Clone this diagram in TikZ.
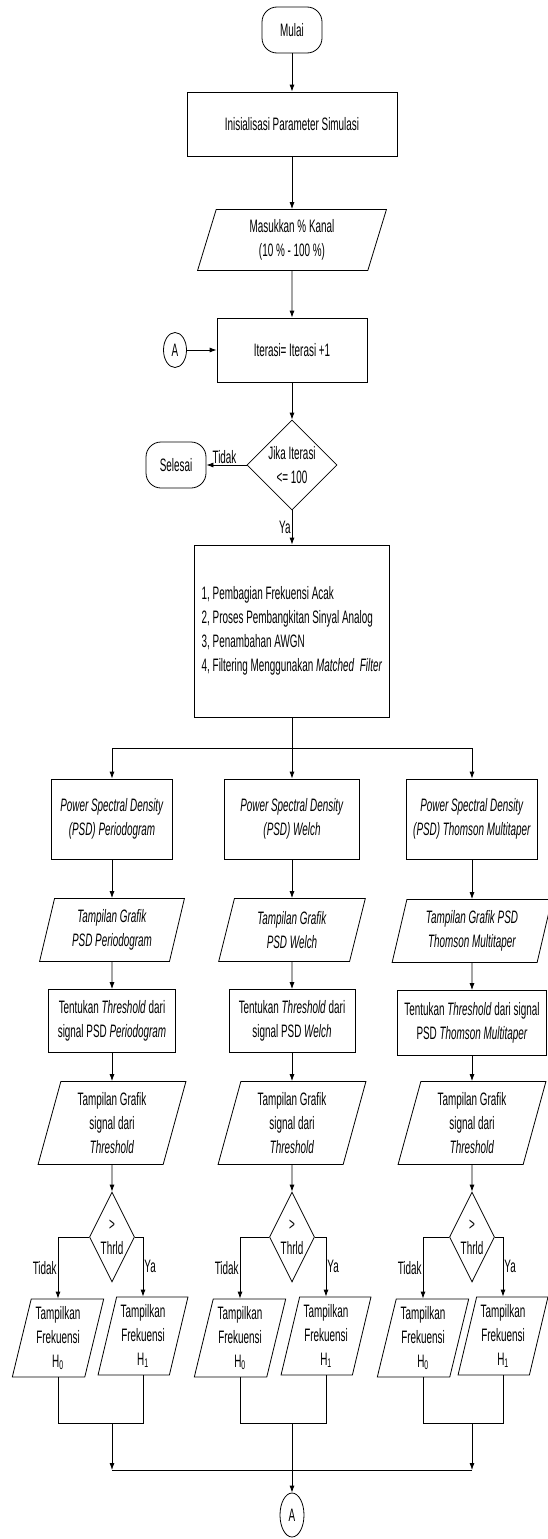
\documentclass[tikz,border=0pt]{standalone}
\usepackage{fontspec}
\setmainfont[FakeStretch=0.55]{Liberation Sans}
\usetikzlibrary{arrows.meta,shapes.geometric,positioning,calc}
\tikzset{
  terminal/.style={draw, rounded corners=15pt, minimum width=60pt, minimum height=46pt},
  proses/.style={draw, rectangle, align=center, inner sep=2pt},
  io/.style={draw, trapezium, trapezium left angle=76, trapezium right angle=104, trapezium stretches=true, align=center, inner sep=1pt},
  cabang/.style={draw, diamond, aspect=0.5, align=center, inner sep=0pt},
  konektor/.style={draw, ellipse, inner sep=0pt, minimum width=23pt},
  panah/.style={-{Latex[length=7pt,width=5pt]}},
  label/.style={inner sep=1pt}
}
\begin{document}
\begin{tikzpicture}[x=1pt,y=-1pt,line width=0.8pt,font=\fontsize{18}{24}\selectfont]
  \useasboundingbox (0,0) rectangle (548,1539);
  \node[terminal] (mulai) at (292,30) {Mulai};
  \node[proses, minimum width=210pt, minimum height=64pt] (init) at (292,124) {Inisialisasi Parameter Simulasi};
  \node[io, minimum width=189pt, minimum height=61pt] (masuk) at (292,240) {Masukkan \% Kanal\\(10 \% - 100 \%)};
  \node[proses, minimum width=150pt, minimum height=64pt] (iter) at (292,350) {Iterasi= Iterasi +1};
  \node[konektor, minimum height=35pt] (A1) at (175,350) {A};
  \node[cabang, aspect=1, minimum width=90pt, minimum height=90pt] (cek) at (292,465) {Jika Iterasi\\<= 100};
  \node[terminal] (selesai) at (176,465) {Selesai};
  \node[proses, align=left, inner sep=1pt, minimum width=195pt, minimum height=172pt] (langkah) at (292,631) {1, Pembagian Frekuensi Acak\\2, Proses Pembangkitan Sinyal Analog\\3, Penambahan AWGN\\4, Filtering Menggunakan \textit{Matched}\ \ \textit{Filter}};
  \coordinate (bagi) at (292,748);
  \coordinate (kumpul) at (292,1470);

  \draw[panah] (mulai) -- (init);
  \draw[panah] (init) -- (masuk);
  \draw[panah] (masuk) -- (iter);
  \draw[panah] (A1) -- (iter);
  \draw[panah] (iter) -- (cek);
  \draw[panah] (cek.west) -- node[label, above, xshift=-2pt] (tdk0) {Tidak} (selesai.east);
  \draw[panah] (cek.south) -- node[label, left] (ya0) {Ya} (langkah.north);
  \draw (langkah.south) -- (bagi);

  % kolom PSD
  \node[proses, minimum width=121pt, minimum height=80pt] (psd1) at (112,819) {\textit{Power Spectral Density}\\\textit{(PSD) Periodogram}};
  \node[proses, minimum width=135pt, minimum height=80pt] (psd2) at (292,819) {\textit{Power Spectral Density}\\\textit{(PSD) Welch}};
  \node[proses, minimum width=131pt, minimum height=80pt] (psd3) at (472,819) {\textit{Power Spectral Density}\\\textit{(PSD) Thomson Multitaper}};
  \node[io, minimum width=145pt, minimum height=63pt] (tg1) at (112,930) {\textit{Tampilan Grafik}\\\textit{PSD Periodogram}};
  \node[io, minimum width=148pt, minimum height=63pt] (tg2) at (292,930) {\textit{Tampilan Grafik}\\\textit{PSD Welch}};
  \node[io, minimum width=160pt, minimum height=63pt] (tg3) at (472,931) {\textit{Tampilan Grafik PSD}\\\textit{Thomson Multitaper}};
  \node[proses, minimum width=127pt, minimum height=63pt] (tt1) at (112,1021) {Tentukan \textit{Threshold} dari\\signal PSD \textit{Periodogram}};
  \node[proses, minimum width=126pt, minimum height=63pt] (tt2) at (292,1021) {Tentukan \textit{Threshold} dari\\signal PSD \textit{Welch}};
  \node[proses, minimum width=149pt, minimum height=65pt] (tt3) at (472,1023) {Tentukan \textit{Threshold} dari signal\\PSD \textit{Thomson Multitaper}};

  \foreach \i/\x/\a/\b in {1/112/58/143, 2/292/240/326, 3/472/423/503}{
    \node[io, minimum width=148pt, minimum height=83pt] (ts\i) at (\x,1123) {Tampilan Grafik\\signal dari\\\textit{Threshold}};
    \node[cabang, minimum width=45pt, minimum height=90pt] (thr\i) at (\x,1237) {>\\Thrld};
    \node[io, minimum width=92pt, minimum height=78pt] (hnol\i) at (\a,1338) {Tampilkan\\Frekuensi\\H\textsubscript{0}};
    \node[io, minimum width=90pt, minimum height=78pt] (hsatu\i) at (\b,1336) {Tampilkan\\Frekuensi\\H\textsubscript{1}};
    \coordinate (gab\i) at (\x,1423);
    \draw[panah] (bagi) -| (psd\i.north);
    \draw[panah] (psd\i) -- (tg\i);
    \draw[panah] (tg\i) -- (tt\i);
    \draw[panah] (tt\i) -- (ts\i);
    \draw[panah] (ts\i) -- (thr\i);
    \draw[panah] (thr\i.west) -| node[label, pos=0.75, left] (tdk\i) {Tidak} (hnol\i.north);
    \draw[panah] (thr\i.east) -| node[label, pos=0.75, right] (ya\i) {Ya} (hsatu\i.north);
    \draw (hnol\i.south) |- (gab\i) -| (hsatu\i.south);
  }

  \node[konektor, minimum width=24pt, minimum height=44pt] (A2) at (292,1515) {A};
  \draw (gab1 |- kumpul) -- (gab3 |- kumpul);
  \draw[panah] (gab1) -- (gab1 |- kumpul);
  \draw[panah] (gab3) -- (gab3 |- kumpul);
  \draw[panah] (gab2) -- (A2);
\end{tikzpicture}
\end{document}
